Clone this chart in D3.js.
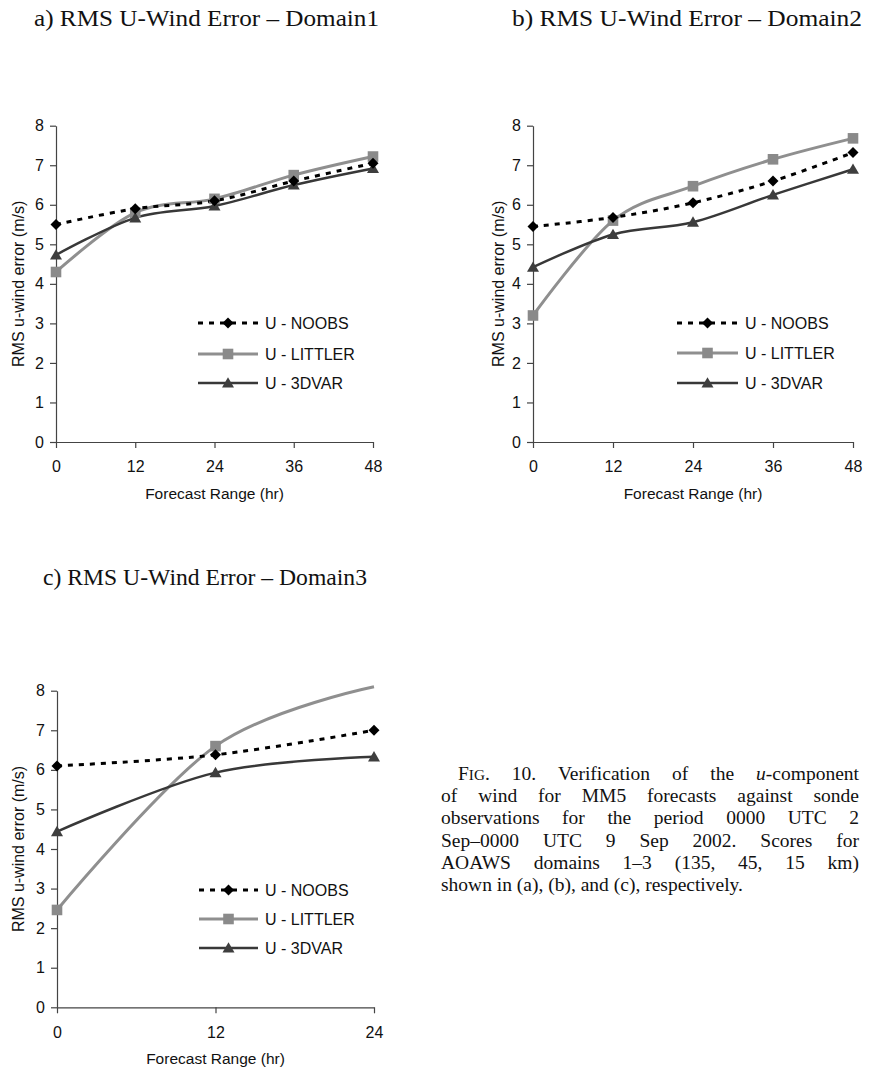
<!DOCTYPE html>
<html><head><meta charset="utf-8">
<script src="https://cdn.jsdelivr.net/npm/d3@7"></script>
<style>body{margin:0;background:#fff} svg{display:block}</style>
</head><body>
<svg id="chart" width="874" height="1072"></svg>
<script>
// ---- data ----
const hoursAB = [0, 12, 24, 36, 48];
const hoursC  = [0, 12, 24];
const noobsA   = [5.50, 5.90, 6.10, 6.60, 7.05];
const littlerA = [4.30, 5.80, 6.15, 6.75, 7.22];
const var3dA   = [4.73, 5.67, 5.97, 6.50, 6.92];
const noobsB   = [5.45, 5.68, 6.05, 6.60, 7.32];
const littlerB = [3.20, 5.60, 6.47, 7.15, 7.68];
const var3dB   = [4.42, 5.25, 5.56, 6.25, 6.90];
const noobsC   = [6.10, 6.38, 7.00];
const littlerC = [2.46, 6.60, 8.10];
const var3dC   = [4.44, 5.93, 6.33];
const yTicks = [0, 1, 2, 3, 4, 5, 6, 7, 8];
const seriesNames = ["U - NOOBS", "U - LITTLER", "U - 3DVAR"];
const panelTitles = ["a) RMS U-Wind Error \u2013 Domain1", "b) RMS U-Wind Error \u2013 Domain2", "c) RMS U-Wind Error \u2013 Domain3"];
const xTitle = "Forecast Range (hr)";
const yTitle = "RMS u-wind error (m/s)";
const captionLines = [
  "of wind for MM5 forecasts against sonde",
  "observations for the period 0000 UTC 2",
  "Sep\u20130000 UTC 9 Sep 2002. Scores for",
  "AOAWS domains 1\u20133 (135, 45, 15 km)",
  "shown in (a), (b), and (c), respectively."
];

// ---- styles ----
const styles = [
  {color: "#000000", width: 3,   dash: "5,6", marker: "diamond",  fill: "#000000"},
  {color: "#8f8f8f", width: 3,   dash: null,  marker: "square",   fill: "#8a8a8a"},
  {color: "#383838", width: 2.5, dash: null,  marker: "triangle", fill: "#3e3e3e"}
];
const SANS = "'Liberation Sans', Arial, sans-serif";
const SERIF = "'Liberation Serif', 'Times New Roman', serif";

const panels = [
  {hours: hoursAB, series: [noobsA, littlerA, var3dA], x0: 56, x1: 373, yb: 442, yt: 125.7,
   title: panelTitles[0], tx: 34, ty: 26, tw: 345, ytx: 24,
   leg: {x0: 198, x1: 258, tx: 265, ys: [323, 354, 383]}},
  {hours: hoursAB, series: [noobsB, littlerB, var3dB], x0: 533, x1: 853, yb: 442, yt: 125.7,
   title: panelTitles[1], tx: 512, ty: 26, tw: 350, ytx: 504,
   leg: {x0: 677, x1: 738, tx: 745, ys: [323, 353, 383]}},
  {hours: hoursC, series: [noobsC, littlerC, var3dC], x0: 57, x1: 374, yb: 1007.3, yt: 690.7,
   title: panelTitles[2], tx: 43, ty: 585, tw: 324, ytx: 24,
   leg: {x0: 199, x1: 258, tx: 265, ys: [890, 919, 948]}}
];

const svg = d3.select("#chart");

function markerPath(type) {
  if (type === "diamond") return "M0,-5.5L5.5,0L0,5.5L-5.5,0Z";
  if (type === "square") return "M-5.3,-5.3L5.3,-5.3L5.3,5.3L-5.3,5.3Z";
  return "M0,-5.8L6,4.6L-6,4.6Z";
}

panels.forEach(p => {
  const x = d3.scaleLinear().domain([p.hours[0], p.hours[p.hours.length - 1]]).range([p.x0, p.x1]);
  const y = d3.scaleLinear().domain([0, 8]).range([p.yb, p.yt]);
  const g = svg.append("g");

  // title
  g.append("text").attr("x", p.tx).attr("y", p.ty)
    .attr("textLength", p.tw).attr("lengthAdjust", "spacingAndGlyphs")
    .style("font-family", SERIF).style("font-size", "23px").attr("fill", "#111")
    .text(p.title);

  // axes
  const ya = g.append("g").attr("transform", `translate(${p.x0},0)`)
    .call(d3.axisLeft(y).tickValues(yTicks).tickFormat(d3.format("d")).tickSize(6).tickSizeOuter(0).tickPadding(6));
  const xa = g.append("g").attr("transform", `translate(0,${p.yb})`)
    .call(d3.axisBottom(x).tickValues(p.hours).tickFormat(d3.format("d")).tickSize(6).tickSizeOuter(0).tickPadding(13));
  [ya, xa].forEach(a => {
    a.selectAll("path,line").attr("stroke", "#444").attr("stroke-width", 1.2);
    a.selectAll("text").style("font-family", SANS).style("font-size", "16px").attr("fill", "#111");
  });

  // axis titles
  g.append("text").attr("x", (p.x0 + p.x1) / 2).attr("y", p.yb + 57)
    .attr("text-anchor", "middle").style("font-family", SANS).style("font-size", "15.5px").attr("fill", "#111")
    .text(xTitle);
  g.append("text").attr("transform", `translate(${p.ytx},${(p.yb + p.yt) / 2}) rotate(-90)`)
    .attr("text-anchor", "middle").style("font-family", SANS).style("font-size", "16px").attr("fill", "#111")
    .text(yTitle);

  // lines
  const line = d3.line().x(d => x(d[0])).y(d => y(d[1])).curve(d3.curveCardinal.tension(0));
  const order = [1, 2, 0];
  order.forEach(si => {
    const vals = p.series[si];
    const pts = p.hours.map((h, i) => [h, vals[i]]);
    const st = styles[si];
    g.append("path").datum(pts).attr("d", line).attr("fill", "none")
      .attr("stroke", st.color).attr("stroke-width", st.width)
      .attr("stroke-dasharray", st.dash);
  });
  order.forEach(si => {
    const vals = p.series[si];
    const st = styles[si];
    p.hours.forEach((h, i) => {
      if (vals[i] > 8) return;
      g.append("path").attr("d", markerPath(st.marker))
        .attr("transform", `translate(${x(h)},${y(vals[i])})`)
        .attr("fill", st.fill).attr("stroke", "none");
    });
  });

  // legend
  seriesNames.forEach((name, si) => {
    const st = styles[si];
    const ly = p.leg.ys[si];
    g.append("line").attr("x1", p.leg.x0).attr("x2", p.leg.x1).attr("y1", ly).attr("y2", ly)
      .attr("stroke", st.color).attr("stroke-width", st.width).attr("stroke-dasharray", st.dash);
    g.append("path").attr("d", markerPath(st.marker))
      .attr("transform", `translate(${(p.leg.x0 + p.leg.x1) / 2},${ly})`).attr("fill", st.fill);
    g.append("text").attr("x", p.leg.tx).attr("y", ly + 5.6)
      .style("font-family", SANS).style("font-size", "16px").attr("fill", "#111").text(name);
  });
});

// ---- caption ----
const capLeft = 441, capRight = 859, capIndent = 17, capTop = 780, capLead = 22.2, capSize = 19.5;
function justify(t, width) {
  const nat = t.node().getComputedTextLength();
  const txt = t.node().textContent;
  const n = (txt.match(/ /g) || []).length;
  if (n > 0) t.style("word-spacing", ((width - nat) / n) + "px");
}
const first = svg.append("text").attr("x", capLeft + capIndent).attr("y", capTop)
  .style("font-family", SERIF).style("font-size", capSize + "px").attr("fill", "#111");
first.append("tspan").text("F");
first.append("tspan").style("font-size", (capSize * 0.78) + "px").text("IG");
first.append("tspan").text(". 10. Verification of the ");
first.append("tspan").style("font-style", "italic").text("u");
first.append("tspan").text("-component");
justify(first, capRight - capLeft - capIndent);
captionLines.forEach((ln, i) => {
  const t = svg.append("text").attr("x", capLeft).attr("y", capTop + capLead * (i + 1))
    .style("font-family", SERIF).style("font-size", capSize + "px").attr("fill", "#111").text(ln);
  if (i < captionLines.length - 1) justify(t, capRight - capLeft);
});
</script>
</body></html>
